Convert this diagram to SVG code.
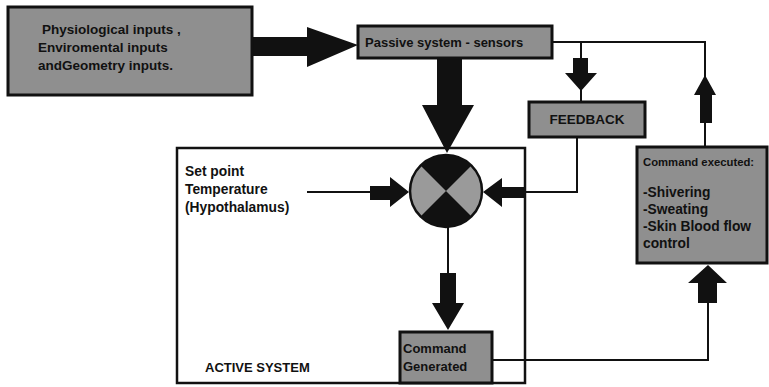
<svg xmlns="http://www.w3.org/2000/svg" width="769" height="387" viewBox="0 0 769 387">
  <style>
    .box { fill: #8f8f8f; stroke: #111; stroke-width: 3; }
    .frame { fill: none; stroke: #111; stroke-width: 2.5; }
    .line { fill: none; stroke: #111; stroke-width: 2; }
    .arrow { fill: #111; }
    text { font-family: "Liberation Sans", Arial, sans-serif; font-weight: bold; fill: #111; }
    .t14 { font-size: 13.5px; }
    .t13 { font-size: 13px; }
    .t135 { font-size: 13.8px; }
    .t11 { font-size: 11.3px; }
  </style>
  <rect width="769" height="387" fill="#ffffff"/>

  <!-- Active system boundary -->
  <g id="active-system">
    <rect class="frame" x="177" y="148" width="348" height="235"/>
    <text class="t13" x="205" y="372">ACTIVE SYSTEM</text>
  </g>

  <!-- Connectors -->
  <g id="connectors">
    <!-- inputs to sensors -->
    <polygon class="arrow" points="252,37 307,37 307,27 358,45 307,67 307,56 252,56"/>
    <!-- sensors down to comparator -->
    <polygon class="arrow" points="437,58 462,58 462,105 474,105 447,153 422,105 437,105"/>
    <!-- sensors to feedback / executed loop -->
    <polyline class="line" points="552,42 705,42 705,147"/>
    <line class="line" x1="581" y1="42" x2="581" y2="102"/>
    <polygon class="arrow" points="573,58 588,58 588,73 597,73 581,91 565,73 573,73"/>
    <polygon class="arrow" points="700,123 712,123 712,95 716,95 705,75 694,95 700,95"/>
    <!-- feedback to comparator -->
    <polyline class="line" points="577,137 577,192 520,192"/>
    <polygon class="arrow" points="524,187 502,187 502,178 483,192 502,207 502,198 524,198"/>
    <!-- set point to comparator -->
    <line class="line" x1="307" y1="192" x2="372" y2="192"/>
    <polygon class="arrow" points="370,186 390,186 390,177 409,192 390,207 390,200 370,200"/>
    <!-- comparator to command generated -->
    <line class="line" x1="448" y1="226" x2="448" y2="275"/>
    <polygon class="arrow" points="440,273 456,273 456,303 464,303 448,330 432,303 440,303"/>
    <!-- command generated to command executed -->
    <polyline class="line" points="492,360 708,360 708,300"/>
    <polygon class="arrow" points="698,303 717,303 717,283 727,283 708,265 688,283 698,283"/>
  </g>

  <g id="inputs">
    <rect class="box" x="8" y="7" width="244" height="88"/>
    <text class="t14" x="42" y="34">Physiological inputs ,</text>
    <text class="t14" x="38" y="52">Enviromental inputs</text>
    <text class="t14" x="38" y="70">andGeometry inputs.</text>
  </g>

  <g id="sensors">
    <rect class="box" x="358" y="26" width="194" height="32"/>
    <text class="t13" x="365" y="47">Passive system - sensors</text>
  </g>

  <g id="feedback">
    <rect class="box" x="529" y="102" width="116" height="35"/>
    <text class="t14" x="587" y="124" text-anchor="middle">FEEDBACK</text>
  </g>

  <g id="set-point">
    <text class="t135" x="185" y="176">Set point</text>
    <text class="t135" x="185" y="194">Temperature</text>
    <text class="t135" x="185" y="212">(Hypothalamus)</text>
  </g>

  <!-- Summing junction -->
  <g id="comparator">
    <circle cx="446" cy="191" r="36" fill="#9a9a9a" stroke="#111" stroke-width="2.5"/>
    <path d="M446,191 L420.5,165.5 A36,36 0 0 1 471.5,165.5 Z" fill="#111"/>
    <path d="M446,191 L471.5,216.5 A36,36 0 0 1 420.5,216.5 Z" fill="#111"/>
  </g>

  <g id="command-generated">
    <rect class="box" x="400" y="332" width="92" height="51"/>
    <text class="t13" x="403" y="353">Command</text>
    <text class="t13" x="403" y="371">Generated</text>
  </g>

  <g id="command-executed">
    <rect class="box" x="637" y="147" width="130" height="116"/>
    <text class="t11" x="643" y="166">Command executed:</text>
    <text class="t135" x="643" y="197">-Shivering</text>
    <text class="t135" x="643" y="214">-Sweating</text>
    <text class="t135" x="643" y="231">-Skin Blood flow</text>
    <text class="t135" x="643" y="248">control</text>
  </g>
</svg>
